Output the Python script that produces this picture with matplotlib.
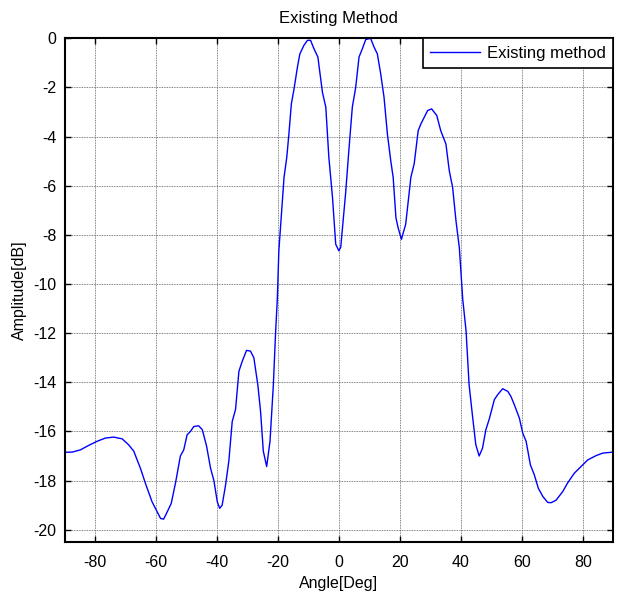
import numpy as np
import matplotlib
matplotlib.use('Agg')
import matplotlib.pyplot as plt

plt.rcParams['font.family'] = ['Liberation Sans', 'DejaVu Sans']
plt.rcParams['axes.unicode_minus'] = False

# beam pattern (angle in deg, amplitude in dB)
angle = [-90, -87.5, -84.8, -82.1, -79.3, -76.6, -73.9, -71.1, -69.0, -67.3,
         -65.1, -63.5, -61.3, -59.6, -58.5, -57.5, -56.3, -55.0, -53.6, -52.0,
         -50.9, -49.8, -48.7, -47.6, -46.0, -44.8, -43.4, -42.1, -41.0, -39.9,
         -39.1, -38.3, -37.2, -36.1, -35.0, -33.9, -32.8, -31.7, -30.3, -29.0,
         -27.9, -26.6, -25.7, -24.8, -23.7, -22.6, -21.5, -20.8, -20.2, -19.7,
         -18.0, -17.1, -16.4, -15.6, -14.8, -13.6, -12.8, -11.5, -10.3, -9.3,
         -8.2, -6.9, -5.4, -4.3, -3.3, -2.1, -1.05, 0.0, 0.6, 2.2,
         3.3, 4.4, 5.5, 6.6, 7.7, 8.8, 10.4, 11.5, 12.6, 13.7,
         14.8, 15.9, 17.0, 17.8, 18.7, 19.4, 20.5, 21.9, 23.6, 24.7,
         26.0, 26.9, 28.0, 29.1, 30.4, 32.1, 33.4, 35.1, 36.2, 37.3,
         38.4, 39.5, 40.6, 41.7, 42.7, 43.9, 44.9, 46.0, 47.1, 48.2,
         49.3, 51.0, 52.1, 53.7, 55.4, 56.4, 57.5, 59.2, 60.3, 61.4,
         62.8, 64.1, 65.4, 66.9, 68.5, 69.6, 71.2, 73.4, 75.0, 77.2,
         79.4, 81.6, 84.4, 86.6, 90]
amp = [-16.85, -16.84, -16.75, -16.57, -16.40, -16.27, -16.23, -16.30, -16.54, -16.80,
       -17.50, -18.10, -18.86, -19.27, -19.54, -19.57, -19.27, -18.93, -18.10, -17.00,
       -16.75, -16.14, -16.00, -15.80, -15.77, -15.93, -16.60, -17.50, -18.00, -18.86,
       -19.13, -19.00, -18.20, -17.20, -15.60, -15.10, -13.55, -13.14, -12.70, -12.73,
       -13.00, -14.10, -15.18, -16.80, -17.43, -16.40, -14.10, -12.05, -10.60, -8.65,
       -5.66, -4.84, -3.89, -2.67, -2.12, -1.17, -0.63, -0.29, -0.08, -0.08,
       -0.42, -0.76, -2.20, -2.80, -4.84, -6.48, -8.38, -8.65, -8.50, -6.30,
       -4.50, -2.80, -2.00, -0.76, -0.42, -0.05, 0.0, -0.35, -0.63, -1.44,
       -2.40, -3.89, -4.98, -5.66, -7.30, -7.70, -8.18, -7.57, -5.66, -5.10,
       -3.76, -3.48, -3.21, -2.94, -2.87, -3.14, -3.76, -4.30, -5.39, -6.07,
       -7.43, -8.52, -10.60, -11.90, -14.10, -15.46, -16.54, -17.00, -16.68, -15.93,
       -15.50, -14.70, -14.50, -14.26, -14.37, -14.57, -14.90, -15.46, -16.07, -16.40,
       -17.36, -17.77, -18.31, -18.65, -18.89, -18.90, -18.80, -18.45, -18.10, -17.70,
       -17.43, -17.16, -16.98, -16.88, -16.84]

xticks = np.arange(-80, 81, 20)
yticks = np.arange(-20, 1, 2)

fig = plt.figure(figsize=(6.18, 5.97), dpi=100, facecolor='w')
ax = fig.add_axes([0.1044, 0.0921, 0.888, 0.8437])

ax.plot(angle, amp, color=(0, 0, 1), lw=1.0, label='Existing method')

ax.set_xlim(-90, 90)
ax.set_ylim(-20.5, 0)
ax.set_xticks(xticks)
ax.set_yticks(yticks)
ax.tick_params(direction='in', top=True, right=True, length=4.5, width=1,
               labelsize=11.5)
ax.tick_params(axis='x', pad=9)
ax.tick_params(axis='y', pad=6)
ax.grid(True, color='0.35', linestyle=(0, (1, 1)), linewidth=0.6)
for sp in ax.spines.values():
    sp.set_linewidth(1.5)

ax.set_xlabel('Angle[Deg]', fontsize=11.5, labelpad=5)
ax.set_ylabel('Amplitude[dB]', fontsize=11.5, labelpad=4)
ax.set_title('Existing Method', fontsize=12, pad=11)

leg = ax.legend(loc='upper right', fontsize=12, fancybox=False, framealpha=1,
                edgecolor='k', borderaxespad=0, handlelength=3.0,
                handletextpad=0.4, borderpad=0.45)
leg.get_frame().set_linewidth(1.2)

fig.savefig('out.png', dpi=100)
